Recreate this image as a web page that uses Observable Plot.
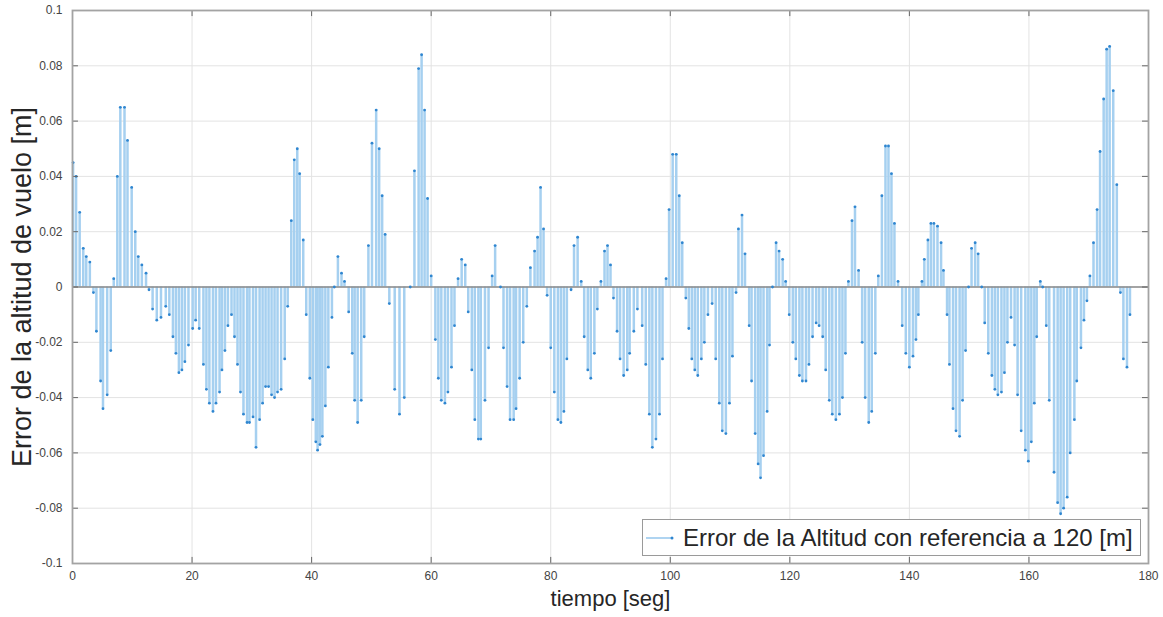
<!DOCTYPE html>
<html><head><meta charset="utf-8">
<script src="https://cdn.jsdelivr.net/npm/d3@7"></script>
<script src="https://cdn.jsdelivr.net/npm/@observablehq/plot@0.6"></script>
<style>
body{margin:0;background:#fff;font-family:"Liberation Sans",Arial,Helvetica,sans-serif;}
#wrap{position:relative;width:1163px;height:617px;overflow:hidden;}
#legend{position:absolute;left:642px;top:519px;width:499px;height:37px;border:1px solid #9a9a9a;background:#fff;box-sizing:border-box;display:flex;align-items:center;}
#legend svg{margin-left:2px;}
#legend span{font-size:24px;color:#262626;margin-left:6px;white-space:nowrap;}
</style></head><body><div id="wrap"></div>
<script>
const tiempo = [
0.1,0.6,1.2,1.8,2.3,2.9,3.5,4.0,4.7,5.1,5.8,6.4,6.9,7.5,8.0,8.7,9.2,9.9,10.5,11.0,11.6,12.3,12.8,13.4,14.1,14.8,15.6,16.2,16.8,17.3,17.8,18.3,18.8,19.4,20.1,20.6,21.2,21.9,22.4,22.9,
23.5,24.0,24.6,25.0,25.5,26.0,26.6,27.1,27.6,28.1,28.6,29.2,29.6,30.2,30.7,31.3,31.8,32.3,32.8,33.3,33.8,34.3,34.9,35.5,36.0,36.6,37.1,37.6,38.0,38.6,39.1,39.7,40.2,40.7,41.0,41.4,41.8,42.3,42.8,43.4,43.8,44.4,45.0,45.5,46.2,
46.8,47.2,47.7,48.3,48.8,49.5,50.1,50.8,51.3,51.8,52.3,53.0,53.9,54.7,55.5,56.5,57.2,57.9,58.4,58.9,59.4,60.0,60.7,61.2,61.7,62.3,62.8,63.4,63.9,64.5,65.1,65.7,66.2,66.8,67.3,67.9,68.3,69.0,69.6,
70.2,70.7,71.6,72.1,72.7,73.2,73.8,74.2,74.8,75.4,76.0,76.6,77.3,77.8,78.3,78.8,79.4,80.0,80.6,81.2,81.7,82.2,82.7,83.4,83.9,84.5,85.1,85.6,86.2,86.7,87.3,87.8,88.4,89.0,89.5,90.0,90.5,91.1,91.6,92.2,92.8,93.2,
93.9,94.5,95.3,95.9,96.5,97.0,97.6,98.2,98.7,99.3,99.8,100.4,101.0,101.5,102.0,102.6,103.1,103.6,104.1,104.6,105.2,105.7,106.3,107.0,107.6,108.2,108.7,109.3,109.9,110.4,111.0,111.4,112.0,112.5,113.2,113.6,114.2,114.7,115.1,115.6,116.2,116.6,
117.1,117.7,118.2,118.8,119.3,119.9,120.5,121.0,121.6,122.1,122.7,123.2,123.8,124.4,124.9,125.5,126.0,126.6,127.1,127.7,128.3,128.8,129.3,129.8,130.4,130.9,131.5,132.1,132.6,133.2,133.7,134.3,134.8,135.4,136.0,136.5,137.0,137.5,138.1,138.8,139.4,140.0,
140.6,141.1,141.5,142.1,142.5,143.1,143.6,144.1,144.7,145.3,145.7,146.3,146.7,147.3,147.8,148.4,148.9,149.4,149.9,150.4,151.0,151.5,152.1,152.6,153.2,153.8,154.3,154.8,155.4,155.9,156.4,157.0,157.6,158.1,158.7,
159.4,159.9,160.4,160.9,161.3,161.9,162.3,162.9,163.4,164.2,164.8,165.3,165.8,166.4,166.9,167.6,168.0,168.7,169.2,169.7,170.2,170.8,171.4,171.9,172.5,173.0,173.5,174.1,174.7,175.3,175.8,176.4,176.9
];
const errorAltitud = [
0.045,0.040,0.027,0.014,0.011,0.009,-0.002,-0.016,-0.034,-0.044,-0.039,-0.023,0.003,0.040,0.065,0.065,0.053,0.036,0.020,0.011,0.008,0.005,-0.001,-0.008,-0.012,-0.011,-0.007,-0.010,-0.018,-0.024,-0.031,-0.030,-0.027,-0.021,-0.015,-0.012,-0.015,-0.028,-0.037,-0.042,
-0.045,-0.042,-0.038,-0.030,-0.023,-0.014,-0.010,-0.018,-0.028,-0.038,-0.046,-0.049,-0.049,-0.047,-0.058,-0.048,-0.042,-0.036,-0.036,-0.039,-0.040,-0.038,-0.037,-0.026,-0.007,0.024,0.046,0.050,0.041,0.017,-0.010,-0.033,-0.048,-0.056,-0.059,-0.057,-0.054,-0.043,-0.029,-0.011,0.000,0.011,0.005,0.002,-0.009,
-0.024,-0.041,-0.049,-0.041,-0.018,0.015,0.052,0.064,0.050,0.033,0.019,-0.006,-0.037,-0.046,-0.040,0.000,0.042,0.079,0.084,0.064,0.032,0.004,-0.019,-0.033,-0.041,-0.042,-0.038,-0.029,-0.014,0.003,0.010,0.008,-0.009,-0.030,-0.048,-0.055,-0.055,-0.041,-0.022,
0.004,0.015,0.000,-0.022,-0.036,-0.048,-0.048,-0.044,-0.033,-0.020,-0.007,0.007,0.013,0.018,0.036,0.021,-0.003,-0.022,-0.038,-0.048,-0.049,-0.045,-0.026,-0.001,0.015,0.018,0.002,-0.018,-0.030,-0.033,-0.024,-0.008,0.002,0.013,0.015,0.008,-0.004,-0.016,-0.026,-0.032,-0.030,-0.024,
-0.016,-0.008,-0.014,-0.028,-0.046,-0.058,-0.055,-0.046,-0.026,0.003,0.028,0.048,0.048,0.033,0.016,-0.004,-0.015,-0.026,-0.030,-0.032,-0.026,-0.020,-0.010,-0.006,-0.026,-0.042,-0.052,-0.053,-0.042,-0.025,-0.002,0.021,0.026,0.012,-0.014,-0.034,-0.053,-0.064,-0.069,-0.061,-0.045,-0.021,
0.000,0.016,0.013,0.010,0.002,-0.010,-0.020,-0.026,-0.032,-0.034,-0.034,-0.028,-0.018,-0.013,-0.014,-0.018,-0.030,-0.041,-0.046,-0.048,-0.046,-0.040,-0.024,0.002,0.024,0.029,0.006,-0.020,-0.040,-0.049,-0.045,-0.024,0.004,0.033,0.051,0.051,0.041,0.023,0.002,-0.014,-0.024,-0.029,
-0.025,-0.019,-0.010,0.002,0.010,0.017,0.023,0.023,0.022,0.016,0.006,-0.010,-0.028,-0.044,-0.052,-0.054,-0.041,-0.023,0.000,0.014,0.016,0.012,0.000,-0.013,-0.024,-0.032,-0.037,-0.039,-0.038,-0.031,-0.020,-0.011,-0.021,-0.039,-0.052,
-0.059,-0.063,-0.056,-0.042,-0.018,0.002,0.000,-0.014,-0.041,-0.067,-0.078,-0.082,-0.080,-0.076,-0.060,-0.048,-0.034,-0.022,-0.012,-0.005,0.004,0.016,0.028,0.049,0.068,0.086,0.087,0.071,0.037,-0.002,-0.026,-0.029,-0.010
];
const xTicks = [0, 20, 40, 60, 80, 100, 120, 140, 160, 180];
const yTicks = [-0.1, -0.08, -0.06, -0.04, -0.02, 0, 0.02, 0.04, 0.06, 0.08, 0.1];
const serieNombre = "Error de la Altitud con referencia a 120 [m]";
const xLabel = "tiempo [seg]";
const yLabel = "Error de la altitud de vuelo [m]";

const data = tiempo.map((t, i) => ({t, v: errorAltitud[i]}));
const stemColor = "#a6d0f0";
const dotColor = "#2f86d0";

const chart = Plot.plot({
  width: 1163, height: 617,
  marginLeft: 72, marginRight: 15, marginTop: 10, marginBottom: 54,
  style: {fontFamily: "'Liberation Sans', Arial, Helvetica, sans-serif", fontSize: "12px", color: "#333", background: "#fff"},
  x: {domain: [0, 180]},
  y: {domain: [-0.1, 0.1]},
  marks: [
    Plot.gridX(xTicks, {stroke: "#e3e3e3", strokeOpacity: 1}),
    Plot.gridY(yTicks, {stroke: "#e3e3e3", strokeOpacity: 1}),
    Plot.ruleX(data, {x: "t", y1: 0, y2: "v", stroke: stemColor, strokeWidth: 2.5}),
    Plot.ruleY([0], {stroke: "#8a8a8a", strokeWidth: 1.6}),
    Plot.dot(data, {x: "t", y: "v", r: 1.4, fill: dotColor, stroke: "none"}),
    Plot.ruleX(xTicks, {y1: -0.1, y2: -0.0978, stroke: "#666", strokeWidth: 1}),
    Plot.ruleX(xTicks, {y1: 0.1, y2: 0.0978, stroke: "#666", strokeWidth: 1}),
    Plot.ruleY(yTicks, {x1: 0, x2: 1, stroke: "#666", strokeWidth: 1}),
    Plot.ruleY(yTicks, {x1: 179, x2: 180, stroke: "#666", strokeWidth: 1}),
    Plot.frame({stroke: "#a3a3a3", strokeWidth: 1.8}),
    Plot.axisX(xTicks, {tickSize: 0, tickPadding: 8, label: null, fill: "#444", tickFormat: d => String(d)}),
    Plot.axisY(yTicks, {tickSize: 0, tickPadding: 10, label: null, fill: "#444", tickFormat: d => d === 0 ? "0" : String(d)}),
    Plot.text([yLabel], {frameAnchor: "left", textAnchor: "middle", rotate: -90, dx: -50, fontSize: 27, fill: "#262626"}),
    Plot.text([xLabel], {frameAnchor: "bottom", textAnchor: "middle", dy: 42, fontSize: 22, fill: "#262626"})
  ]
});
const wrap = document.getElementById("wrap");
wrap.appendChild(chart);

const legend = document.createElement("div");
legend.id = "legend";
legend.innerHTML = `<svg width="32" height="10"><line x1="1" y1="5" x2="27" y2="5" stroke="${stemColor}" stroke-width="1.8"/><circle cx="27" cy="5" r="1.5" fill="${dotColor}"/></svg><span></span>`;
legend.querySelector("span").textContent = serieNombre;
wrap.appendChild(legend);
</script>
</body></html>
